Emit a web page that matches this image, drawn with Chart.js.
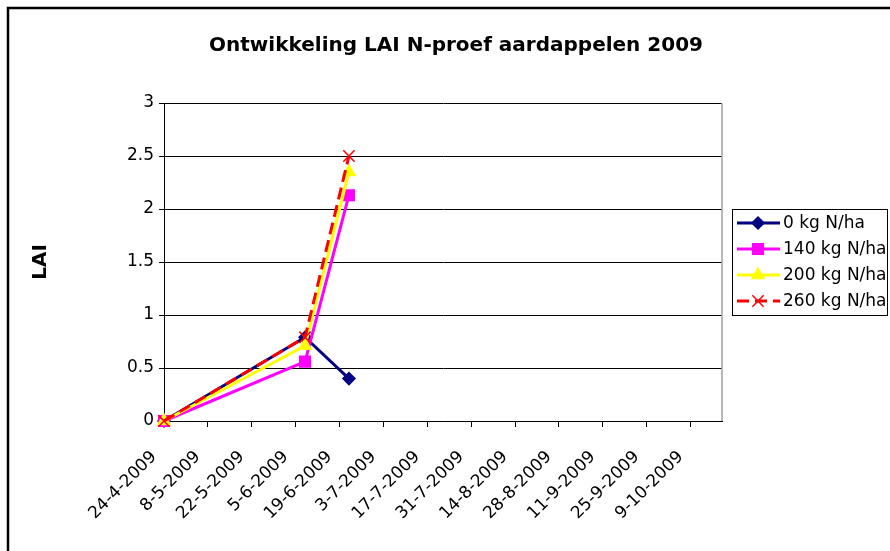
<!DOCTYPE html>
<html>
<head>
<meta charset="utf-8">
<script src="https://cdn.jsdelivr.net/npm/chart.js@4/dist/chart.umd.min.js"></script>
<style>
  body { margin: 0; background: #fff; }
</style>
</head>
<body>
<canvas id="lai" width="890" height="551"></canvas>
<script>
// meetdata LAI per N-gift
const dates = ['24-4-2009', '8-6-2009', '22-6-2009'];
const lai0 = [0, 0.79, 0.40];
const lai140 = [0, 0.56, 2.13];
const lai200 = [0, 0.71, 2.35];
const lai260 = [0, 0.79, 2.50];
const seriesNames = ['0 kg N/ha', '140 kg N/ha', '200 kg N/ha', '260 kg N/ha'];

// x-as labels (elke 14 dagen) en einde van de as
const tickLabels = ['24-4-2009', '8-5-2009', '22-5-2009', '5-6-2009', '19-6-2009', '3-7-2009',
  '17-7-2009', '31-7-2009', '14-8-2009', '28-8-2009', '11-9-2009', '25-9-2009', '9-10-2009'];
const axisEnd = '19-10-2009';

function dayNum(s) {
  const [d, m, y] = s.split('-').map(Number);
  return Date.UTC(y, m - 1, d) / 864e5;
}
function fmtDay(v) {
  const dt = new Date(v * 864e5);
  return dt.getUTCDate() + '-' + (dt.getUTCMonth() + 1) + '-' + dt.getUTCFullYear();
}
const pts = vals => vals.map((v, i) => ({ x: dayNum(dates[i]), y: v }));

const font = '"DejaVu Sans", Arial, sans-serif';

const frame = {
  id: 'frame',
  beforeDraw(chart) {
    const ctx = chart.ctx;
    ctx.save();
    ctx.fillStyle = '#fff';
    ctx.fillRect(0, 0, chart.width, chart.height);
    ctx.strokeStyle = '#000';
    ctx.lineWidth = 2.5;
    ctx.strokeRect(8, 8, 900, 600);
    ctx.restore();
  },
  afterDraw(chart) {
    const ctx = chart.ctx;
    const a = chart.chartArea;
    ctx.save();
    // rechterrand plotgebied
    ctx.strokeStyle = '#a0a0a0';
    ctx.lineWidth = 1.5;
    ctx.beginPath();
    ctx.moveTo(a.right, a.top);
    ctx.lineTo(a.right, a.bottom);
    ctx.stroke();

    // legenda
    ctx.strokeStyle = '#000';
    ctx.lineWidth = 1;
    ctx.strokeRect(732.5, 209.5, 155, 106);
    ctx.font = '17px ' + font;
    ctx.textBaseline = 'middle';
    chart.data.datasets.forEach((ds, i) => {
      const y = 223 + i * 26;
      ctx.strokeStyle = ds.borderColor;
      ctx.lineWidth = 3;
      ctx.setLineDash(ds.borderDash || []);
      ctx.beginPath();
      ctx.moveTo(737, y);
      ctx.lineTo(780, y);
      ctx.stroke();
      ctx.setLineDash([]);
      ctx.fillStyle = ds.pointBackgroundColor;
      ctx.strokeStyle = ds.borderColor;
      ctx.lineWidth = 1.5;
      Chart.helpers.drawPoint(ctx, {
        pointStyle: ds.pointStyle, radius: ds.pointRadius, rotation: 0, borderWidth: 1.5
      }, 758, y);
      ctx.fillStyle = '#000';
      ctx.fillText(ds.label, 783, y + 1);
    });
    ctx.restore();
  }
};

const mk = (label, data, color, style, r, extra) => Object.assign({
  label, data: pts(data),
  borderColor: color, backgroundColor: color,
  pointBackgroundColor: color, pointBorderColor: color,
  pointStyle: style, pointRadius: r, pointBorderWidth: 1.5,
  borderWidth: 3, tension: 0, clip: false
}, extra || {});

new Chart(document.getElementById('lai'), {
  type: 'line',
  data: {
    datasets: [
      mk(seriesNames[0], lai0, '#000080', 'rectRot', 6, { order: 4 }),
      mk(seriesNames[1], lai140, '#ff00ff', 'rect', 7.5, { order: 3 }),
      mk(seriesNames[2], lai200, '#ffff00', 'triangle', 7, { order: 2 }),
      mk(seriesNames[3], lai260, '#ff0000', 'crossRot', 8, { order: 1, borderDash: [12, 6] })
    ]
  },
  plugins: [frame],
  options: {
    responsive: false,
    animation: false,
    layout: { padding: { left: 22, right: 0, top: 0, bottom: 0 } },
    plugins: {
      legend: { display: false },
      tooltip: { enabled: false },
      title: {
        display: true,
        text: 'Ontwikkeling LAI N-proef aardappelen 2009',
        color: '#000',
        font: { family: font, size: 20, weight: 'bold' },
        padding: { top: 34, bottom: 45 }
      }
    },
    scales: {
      x: {
        type: 'linear',
        min: dayNum(tickLabels[0]),
        max: dayNum(axisEnd),
        afterBuildTicks: s => { s.ticks = tickLabels.map(t => ({ value: dayNum(t) })); },
        afterFit: s => { s.height = 130; },
        ticks: {
          callback: v => fmtDay(v),
          autoSkip: false,
          minRotation: 45,
          maxRotation: 45,
          color: '#000',
          padding: 20,
          labelOffset: -10,
          font: { family: font, size: 17 }
        },
        grid: { drawOnChartArea: false, color: '#000', tickLength: 6 },
        border: { color: '#000', width: 1 }
      },
      y: {
        min: 0,
        max: 3,
        afterFit: s => { s.width = 142; },
        ticks: {
          stepSize: 0.5,
          callback: v => String(v),
          color: '#000',
          padding: 5,
          font: { family: font, size: 17 }
        },
        grid: { color: '#000', tickLength: 5 },
        border: { color: '#000', width: 1 },
        title: {
          display: true,
          text: 'LAI',
          color: '#000',
          font: { family: font, size: 20, weight: 'bold' },
          padding: { top: 7, bottom: 0 }
        }
      },
      // lege as rechts: ruimte voor de legenda
      yR: {
        position: 'right',
        display: true,
        afterFit: s => { s.width = 168; },
        ticks: { display: false },
        grid: { display: false },
        border: { display: false }
      }
    }
  }
});
</script>
</body>
</html>
